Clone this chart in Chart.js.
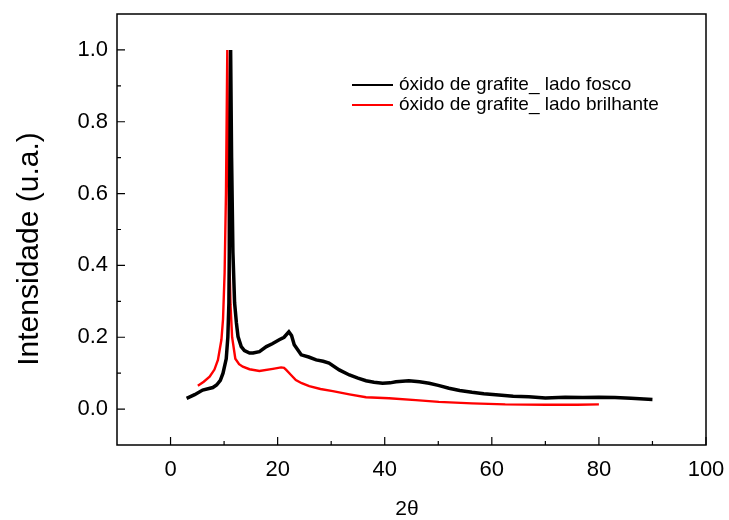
<!DOCTYPE html>
<html>
<head>
<meta charset="utf-8">
<script src="https://cdn.jsdelivr.net/npm/chart.js@4.4.1/dist/chart.umd.min.js"></script>
<style>
  html, body { margin: 0; padding: 0; background: #fff; }
</style>
</head>
<body>
<canvas id="xrdChart" width="729" height="520"></canvas>
<script>
// óxido de grafite - lado fosco (black)
const foscoX = [3.0, 4.5, 6.0, 7.9, 8.6, 9.3, 9.8, 10.4, 10.7, 10.9, 11.05, 11.22, 11.4, 11.65, 11.96, 12.3, 12.6, 13.2, 13.8, 14.75, 15.4, 16.6, 17.9, 19.0, 20.3, 21.2, 22.1, 22.6, 23.1, 24.4, 25.8, 27.2, 28.5, 29.6, 31.5, 33.4, 35.0, 36.5, 38.0, 39.6, 41.0, 42.1, 44.5, 46.5, 48.3, 50.0, 52.0, 54.0, 56.3, 58.5, 61.3, 64.0, 66.9, 70.0, 73.7, 77.0, 80.0, 83.0, 86.0, 90.0];
const foscoY = [0.030, 0.040, 0.053, 0.060, 0.067, 0.080, 0.100, 0.140, 0.200, 0.296, 0.600, 1.000, 0.700, 0.436, 0.296, 0.240, 0.202, 0.174, 0.163, 0.156, 0.156, 0.160, 0.174, 0.182, 0.193, 0.200, 0.215, 0.205, 0.179, 0.151, 0.145, 0.137, 0.133, 0.128, 0.109, 0.095, 0.086, 0.079, 0.075, 0.072, 0.073, 0.076, 0.079, 0.076, 0.072, 0.066, 0.058, 0.052, 0.047, 0.043, 0.039, 0.036, 0.034, 0.031, 0.033, 0.032, 0.033, 0.032, 0.030, 0.027];

// óxido de grafite - lado brilhante (red)
const brilhanteX = [5.1, 6.2, 7.3, 8.2, 8.85, 9.5, 9.8, 10.1, 10.35, 10.6, 10.75, 10.95, 11.2, 11.5, 12.1, 12.8, 13.5, 14.75, 16.6, 19.1, 20.65, 21.2, 21.6, 22.5, 23.4, 24.5, 25.9, 28.0, 30.3, 33.4, 36.5, 40.8, 45.8, 50.1, 56.3, 62.5, 70.0, 76.0, 80.0];
const brilhanteY = [0.065, 0.076, 0.090, 0.110, 0.137, 0.193, 0.250, 0.380, 0.600, 1.000, 0.700, 0.440, 0.290, 0.200, 0.140, 0.125, 0.118, 0.111, 0.106, 0.112, 0.116, 0.115, 0.109, 0.095, 0.081, 0.072, 0.064, 0.056, 0.050, 0.041, 0.033, 0.030, 0.025, 0.020, 0.016, 0.013, 0.012, 0.012, 0.013];

const xTicks = [0, 20, 40, 60, 80, 100];
const xMinor = [10, 30, 50, 70, 90];
const yTicks = [0.0, 0.2, 0.4, 0.6, 0.8, 1.0];
const yMinor = [0.1, 0.3, 0.5, 0.7, 0.9];

const FONT = "'Liberation Sans', Arial, sans-serif";

function toPoints(xs, ys) {
    return xs.map((x, i) => ({ x: x, y: ys[i] }));
}

// frame + inward ticks (Origin style) + axis titles
const framePlugin = {
    id: 'frame',
    afterDatasetsDraw(chart) {
        const { ctx, chartArea: a, scales } = chart;
        ctx.save();
        ctx.strokeStyle = '#000';
        ctx.lineWidth = 1.5;
        ctx.strokeRect(a.left, a.top, a.right - a.left, a.bottom - a.top);
        ctx.lineWidth = 1.2;
        ctx.beginPath();
        xTicks.forEach(v => {
            const px = scales.x.getPixelForValue(v);
            ctx.moveTo(px, a.bottom); ctx.lineTo(px, a.bottom - 8);
        });
        xMinor.forEach(v => {
            const px = scales.x.getPixelForValue(v);
            ctx.moveTo(px, a.bottom); ctx.lineTo(px, a.bottom - 4);
        });
        yTicks.forEach(v => {
            const py = scales.y.getPixelForValue(v);
            ctx.moveTo(a.left, py); ctx.lineTo(a.left + 8, py);
        });
        yMinor.forEach(v => {
            const py = scales.y.getPixelForValue(v);
            ctx.moveTo(a.left, py); ctx.lineTo(a.left + 4, py);
        });
        ctx.stroke();

        // axis titles
        ctx.fillStyle = '#000';
        ctx.textAlign = 'center';
        ctx.textBaseline = 'middle';
        ctx.font = '21px ' + FONT;
        ctx.fillText('2θ', 407, 509);
        ctx.translate(30, 249);
        ctx.rotate(-Math.PI / 2);
        ctx.font = '30px ' + FONT;
        ctx.fillText('Intensidade (u.a.)', 0, 0);
        ctx.restore();
    }
};

// legend drawn inside the plot area
const insideLegend = {
    id: 'insideLegend',
    afterDraw(chart) {
        const ctx = chart.ctx;
        ctx.save();
        ctx.font = '19px ' + FONT;
        ctx.textBaseline = 'middle';
        chart.data.datasets.forEach((ds, i) => {
            const y = 85 + i * 20;
            ctx.strokeStyle = ds.borderColor;
            ctx.lineWidth = 2;
            ctx.beginPath();
            ctx.moveTo(352, y); ctx.lineTo(393, y);
            ctx.stroke();
            ctx.fillStyle = '#000';
            ctx.fillText(ds.label, 399, y);
        });
        ctx.restore();
    }
};

new Chart(document.getElementById('xrdChart'), {
    type: 'line',
    data: {
        datasets: [
            {
                label: 'óxido de grafite_ lado fosco',
                data: toPoints(foscoX, foscoY),
                borderColor: '#000000',
                borderWidth: 3.5,
                pointRadius: 0,
                tension: 0
            },
            {
                label: 'óxido de grafite_ lado brilhante',
                data: toPoints(brilhanteX, brilhanteY),
                borderColor: '#ff0000',
                borderWidth: 2.4,
                pointRadius: 0,
                tension: 0
            }
        ]
    },
    options: {
        responsive: false,
        animation: false,
        layout: { padding: { left: 0, right: 23, top: 14, bottom: 0 } },
        plugins: {
            legend: { display: false },
            tooltip: { enabled: false }
        },
        scales: {
            x: {
                type: 'linear',
                min: -10,
                max: 100,
                afterBuildTicks: s => { s.ticks = xTicks.map(v => ({ value: v })); },
                afterFit: s => { s.height = 75; s.paddingLeft = 0; s.paddingRight = 0; },
                grid: { display: false, drawTicks: false },
                border: { display: false },
                ticks: { color: '#000', font: { family: FONT, size: 22 }, padding: 12, maxRotation: 0, autoSkip: false }
            },
            y: {
                type: 'linear',
                min: -0.1,
                max: 1.1,
                afterBuildTicks: s => { s.ticks = yTicks.map(v => ({ value: v })); },
                afterFit: s => { s.width = 117; s.paddingTop = 0; s.paddingBottom = 0; },
                grid: { display: false, drawTicks: false },
                border: { display: false },
                ticks: { color: '#000', font: { family: FONT, size: 22 }, padding: 9, callback: v => v.toFixed(1) }
            }
        }
    },
    plugins: [framePlugin, insideLegend]
});
</script>
</body>
</html>
